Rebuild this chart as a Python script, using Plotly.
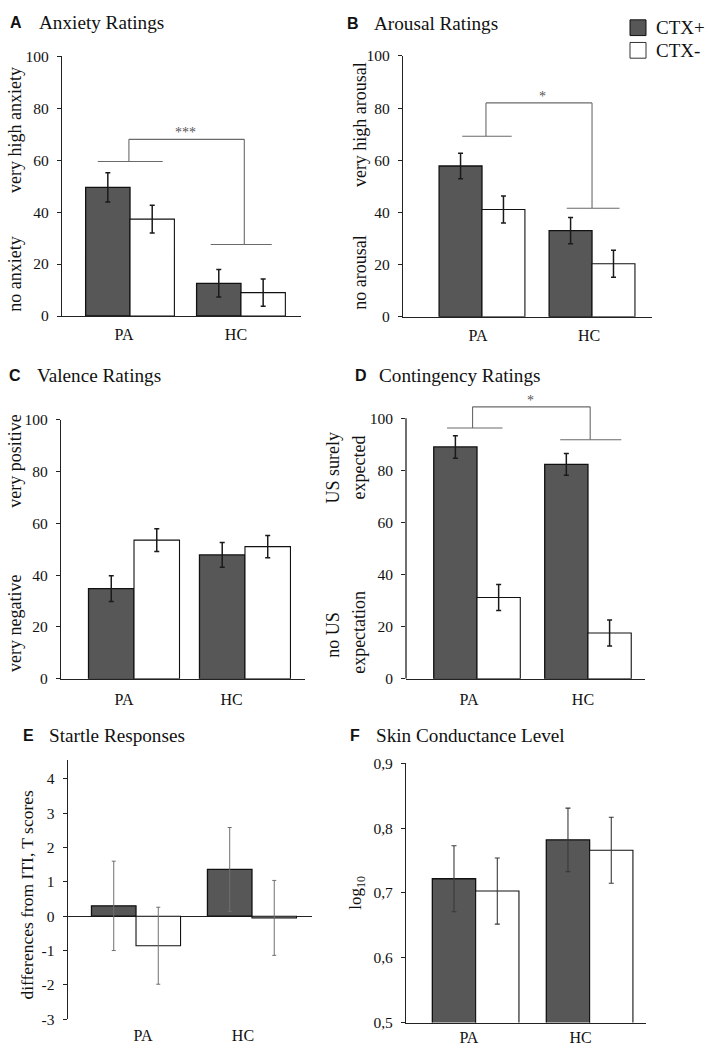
import plotly.graph_objects as go

# ---------------- data ----------------
groups = ["PA", "HC"]
group_pos = [0, 1]

anxiety_plus = [49.5, 12.6]
anxiety_plus_err = [5.6, 5.3]
anxiety_minus = [37.3, 9.0]
anxiety_minus_err = [5.3, 5.2]

arousal_plus = [57.8, 33.0]
arousal_plus_err = [4.9, 5.0]
arousal_minus = [41.1, 20.3]
arousal_minus_err = [5.2, 5.2]

valence_plus = [34.8, 47.8]
valence_plus_err = [5.0, 4.8]
valence_minus = [53.5, 51.0]
valence_minus_err = [4.4, 4.3]

contingency_plus = [89.0, 82.3]
contingency_plus_err = [4.3, 4.2]
contingency_minus = [31.2, 17.6]
contingency_minus_err = [5.0, 5.0]

startle_plus = [0.30, 1.36]
startle_plus_err = [1.30, 1.22]
startle_minus = [-0.86, -0.05]
startle_minus_err = [1.12, 1.09]

scl_plus = [0.722, 0.782]
scl_plus_err = [0.051, 0.049]
scl_minus = [0.703, 0.766]
scl_minus_err = [0.051, 0.051]

# significance brackets: (left line y, top y, right line y, label)
sig_A = (59.5, 68.0, 27.5, "***")
sig_B = (69.2, 82.0, 41.6, "*")
sig_D = (96.3, 104.4, 91.8, "*")

W, H = 708, 1063
DARK = "rgb(87,87,87)"
SERIF = "Liberation Serif"
SANS = "Liberation Sans"
AXC = "#222222"


def px(x):
    return x / W


def py(y):
    return 1 - y / H


panels = [
    dict(key="A", title="Anxiety Ratings", plus=anxiety_plus, pe=anxiety_plus_err,
         minus=anxiety_minus, me=anxiety_minus_err,
         xd=(62, 301), yd=(312, 48), xr=[-0.613, 1.541], yr=[0, 100], bw=0.40,
         tv=[0, 20, 40, 60, 80, 100], tt=["0", "20", "40", "60", "80", "100"],
         xt=[-0.054, 0.955], standoff=4, eb=("#1a1a1a", 1.5, 2.5)),
    dict(key="B", title="Arousal Ratings", plus=arousal_plus, pe=arousal_plus_err,
         minus=arousal_minus, me=arousal_minus_err,
         xd=(403, 652), yd=(312.7, 47.7), xr=[-0.718, 1.545], yr=[0, 100], bw=0.39,
         tv=[0, 20, 40, 60, 80, 100], tt=["0", "20", "40", "60", "80", "100"],
         xt=[-0.036, 0.973], standoff=4, eb=("#1a1a1a", 1.5, 2.5)),
    dict(key="C", title="Valence Ratings", plus=valence_plus, pe=valence_plus_err,
         minus=valence_minus, me=valence_minus_err,
         xd=(61, 305), yd=(680.7, 417.3), xr=[-0.658, 1.541], yr=[0, 100], bw=0.41,
         tv=[0, 20, 40, 60, 80, 100], tt=["0", "20", "40", "60", "80", "100"],
         xt=[-0.09, 0.88], standoff=6, eb=("#1a1a1a", 1.5, 2.5)),
    dict(key="D", title="Contingency Ratings", plus=contingency_plus, pe=contingency_plus_err,
         minus=contingency_minus, me=contingency_minus_err,
         xd=(406, 645), yd=(680.7, 389.5), xr=[-0.640, 1.514], yr=[0, 110], bw=0.39,
         tv=[0, 20, 40, 60, 80, 100], tt=["0", "20", "40", "60", "80", "100"],
         xt=[-0.072, 0.955], standoff=6, eb=("#1a1a1a", 1.5, 2.5)),
    dict(key="E", title="Startle Responses", plus=startle_plus, pe=startle_plus_err,
         minus=startle_minus, me=startle_minus_err,
         xd=(67.7, 311.7), yd=(1026.7, 763), xr=[-0.589, 1.515], yr=[-3, 4.55], bw=0.384,
         tv=[-3, -2, -1, 0, 1, 2, 3, 4], tt=["-3", "-2", "-1", "0", "1", "2", "3", "4"],
         xt=[0.06, 0.922], standoff=5, eb=("#707070", 1.0, 2)),
    dict(key="F", title="Skin Conductance Level", plus=scl_plus, pe=scl_plus_err,
         minus=scl_minus, me=scl_minus_err,
         xd=(406, 645.7), yd=(1030, 766.7), xr=[-0.611, 1.492], yr=[0.5, 0.9], bw=0.38,
         tv=[0.5, 0.6, 0.7, 0.8, 0.9], tt=["0,5", "0,6", "0,7", "0,8", "0,9"],
         xt=[-0.059, 0.921], standoff=0, eb=("#3a3a3a", 1.1, 2.5)),
]

fig = go.Figure()
layout = dict(width=W, height=H, margin=dict(l=0, r=0, t=0, b=0),
              paper_bgcolor="white", plot_bgcolor="white", showlegend=False,
              barmode="overlay", shapes=[], annotations=[],
              font=dict(family=SERIF, color="#111111"))

for i, p in enumerate(panels, start=1):
    xa = "x" if i == 1 else f"x{i}"
    ya = "y" if i == 1 else f"y{i}"
    xkey = "xaxis" if i == 1 else f"xaxis{i}"
    ykey = "yaxis" if i == 1 else f"yaxis{i}"
    ebc, ebt, ebw = p["eb"]
    fig.add_trace(go.Bar(
        x=group_pos, y=p["plus"], name="CTX+", width=p["bw"], offset=-p["bw"],
        marker=dict(color=DARK, line=dict(color="#111111", width=1.3)),
        error_y=dict(type="data", array=p["pe"], visible=True, color=ebc,
                     thickness=ebt, width=ebw),
        xaxis=xa, yaxis=ya, showlegend=False))
    fig.add_trace(go.Bar(
        x=group_pos, y=p["minus"], name="CTX-", width=p["bw"], offset=0,
        marker=dict(color="white", line=dict(color="#111111", width=1.1)),
        error_y=dict(type="data", array=p["me"], visible=True, color=ebc,
                     thickness=ebt, width=ebw),
        xaxis=xa, yaxis=ya, showlegend=False))

    is_E = p["key"] == "E"
    is_D = p["key"] == "D"
    layout[xkey] = dict(
        domain=[px(p["xd"][0]), px(p["xd"][1])], range=p["xr"], anchor=ya,
        showgrid=False, zeroline=False, showline=not is_E, linecolor=AXC, linewidth=1.3,
        ticks="", tickvals=p["xt"], ticktext=groups, ticklabelstandoff=p["standoff"],
        tickfont=dict(family=SERIF, size=16, color="#111111"), fixedrange=True)
    layout[ykey] = dict(
        domain=[py(p["yd"][0]), py(p["yd"][1])], range=p["yr"], anchor=xa,
        showgrid=False, zeroline=is_E, zerolinecolor=AXC, zerolinewidth=1.3,
        showline=not is_D, linecolor=AXC, linewidth=1.3,
        ticks="outside", ticklen=4, tickwidth=1.2, tickcolor=AXC,
        tickvals=p["tv"], ticktext=p["tt"], ticklabelstandoff=5,
        tickfont=dict(family=SERIF, size=15.5, color="#111111"), fixedrange=True)

    tx = {"A": (8, 37, 14), "B": (345, 372, 15), "C": (7, 35, 372),
          "D": (353, 377, 372), "E": (21, 47, 738), "F": (348, 374, 738)}[p["key"]]
    layout["annotations"].append(dict(
        x=px(tx[0]), y=py(tx[2]), xref="paper", yref="paper", xanchor="left",
        yanchor="middle", text=f"<b>{p['key']}</b>", showarrow=False,
        font=dict(family=SANS, size=16, color="#111111")))
    layout["annotations"].append(dict(
        x=px(tx[1]), y=py(tx[2]), xref="paper", yref="paper", xanchor="left",
        yanchor="middle", text=p["title"], showarrow=False,
        font=dict(family=SERIF, size=19.2, color="#111111")))

layout["shapes"].append(dict(type="line", xref="x4 domain", yref="y4", x0=0, x1=0,
                             y0=0, y1=100, line=dict(color=AXC, width=1.3)))

ylabels = [
    ("very high anxiety", 15, 123, 18), ("no anxiety", 15, 270, 18),
    ("very high arousal", 360, 118, 18), ("no arousal", 360, 268, 18),
    ("very positive", 15, 460, 18), ("very negative", 15, 625, 18),
    ("US surely", 333, 466, 18), ("expected", 359, 466, 18),
    ("no US", 333, 636, 18), ("expectation", 359, 634, 18),
    ("differences from ITI, T scores", 27, 900, 17.5),
    ("log<sub>10</sub>", 357, 898, 17),
]
for text, xx, yy, fs in ylabels:
    layout["annotations"].append(dict(
        x=px(xx), y=py(yy), xref="paper", yref="paper", xanchor="center",
        yanchor="middle", text=text, textangle=-90, showarrow=False,
        font=dict(family=SERIF, size=fs, color="#111111")))


def bracket(xa, ya, spec, lhalf, rhalf, star_x):
    ly, top, ry, lab = spec
    c = dict(color="#6a6a6a", width=1.1)
    layout["shapes"].extend([
        dict(type="line", xref=xa, yref=ya, x0=lhalf[0], x1=lhalf[1], y0=ly, y1=ly, line=c),
        dict(type="line", xref=xa, yref=ya, x0=lhalf[2], x1=lhalf[2], y0=ly, y1=top, line=c),
        dict(type="line", xref=xa, yref=ya, x0=lhalf[2], x1=rhalf[2], y0=top, y1=top, line=c),
        dict(type="line", xref=xa, yref=ya, x0=rhalf[2], x1=rhalf[2], y0=top, y1=ry, line=c),
        dict(type="line", xref=xa, yref=ya, x0=rhalf[0], x1=rhalf[1], y0=ry, y1=ry, line=c),
    ])
    layout["annotations"].append(dict(
        x=star_x, y=top, xref=xa, yref=ya, text=lab, showarrow=False,
        yanchor="bottom", yshift=-3, font=dict(family=SERIF, size=14, color="#555555")))


bracket("x", "y", sig_A, (-0.29, 0.295, -0.01), (0.727, 1.277, 1.03), 0.5)
bracket("x2", "y2", sig_B, (-0.18, 0.27, 0.036), (0.77, 1.25, 1.0), 0.55)
bracket("x4", "y4", sig_D, (-0.27, 0.23, -0.04), (0.75, 1.30, 1.02), 0.48)

# custom legend (top right)
layout["shapes"].append(dict(type="rect", xref="paper", yref="paper",
                             x0=px(630), x1=px(646), y0=py(27), y1=py(11),
                             fillcolor=DARK, line=dict(color="#111111", width=1)))
layout["shapes"].append(dict(type="rect", xref="paper", yref="paper",
                             x0=px(630), x1=px(646), y0=py(50), y1=py(34),
                             fillcolor="white", line=dict(color="#333333", width=1)))
for text, yy in (("CTX+", 19), ("CTX-", 42)):
    layout["annotations"].append(dict(
        x=px(654), y=py(yy), xref="paper", yref="paper", xanchor="left", yanchor="middle",
        text=text, showarrow=False, font=dict(family=SERIF, size=19, color="#111111")))

fig.update_layout(**layout)
post = (
    "document.documentElement.style.margin='0';"
    "document.body.style.margin='0';document.body.style.padding='0';"
    "document.documentElement.style.overflow='hidden';document.body.style.overflow='hidden';"
)
fig.write_html("out.html", config={"displayModeBar": False}, post_script=post)
